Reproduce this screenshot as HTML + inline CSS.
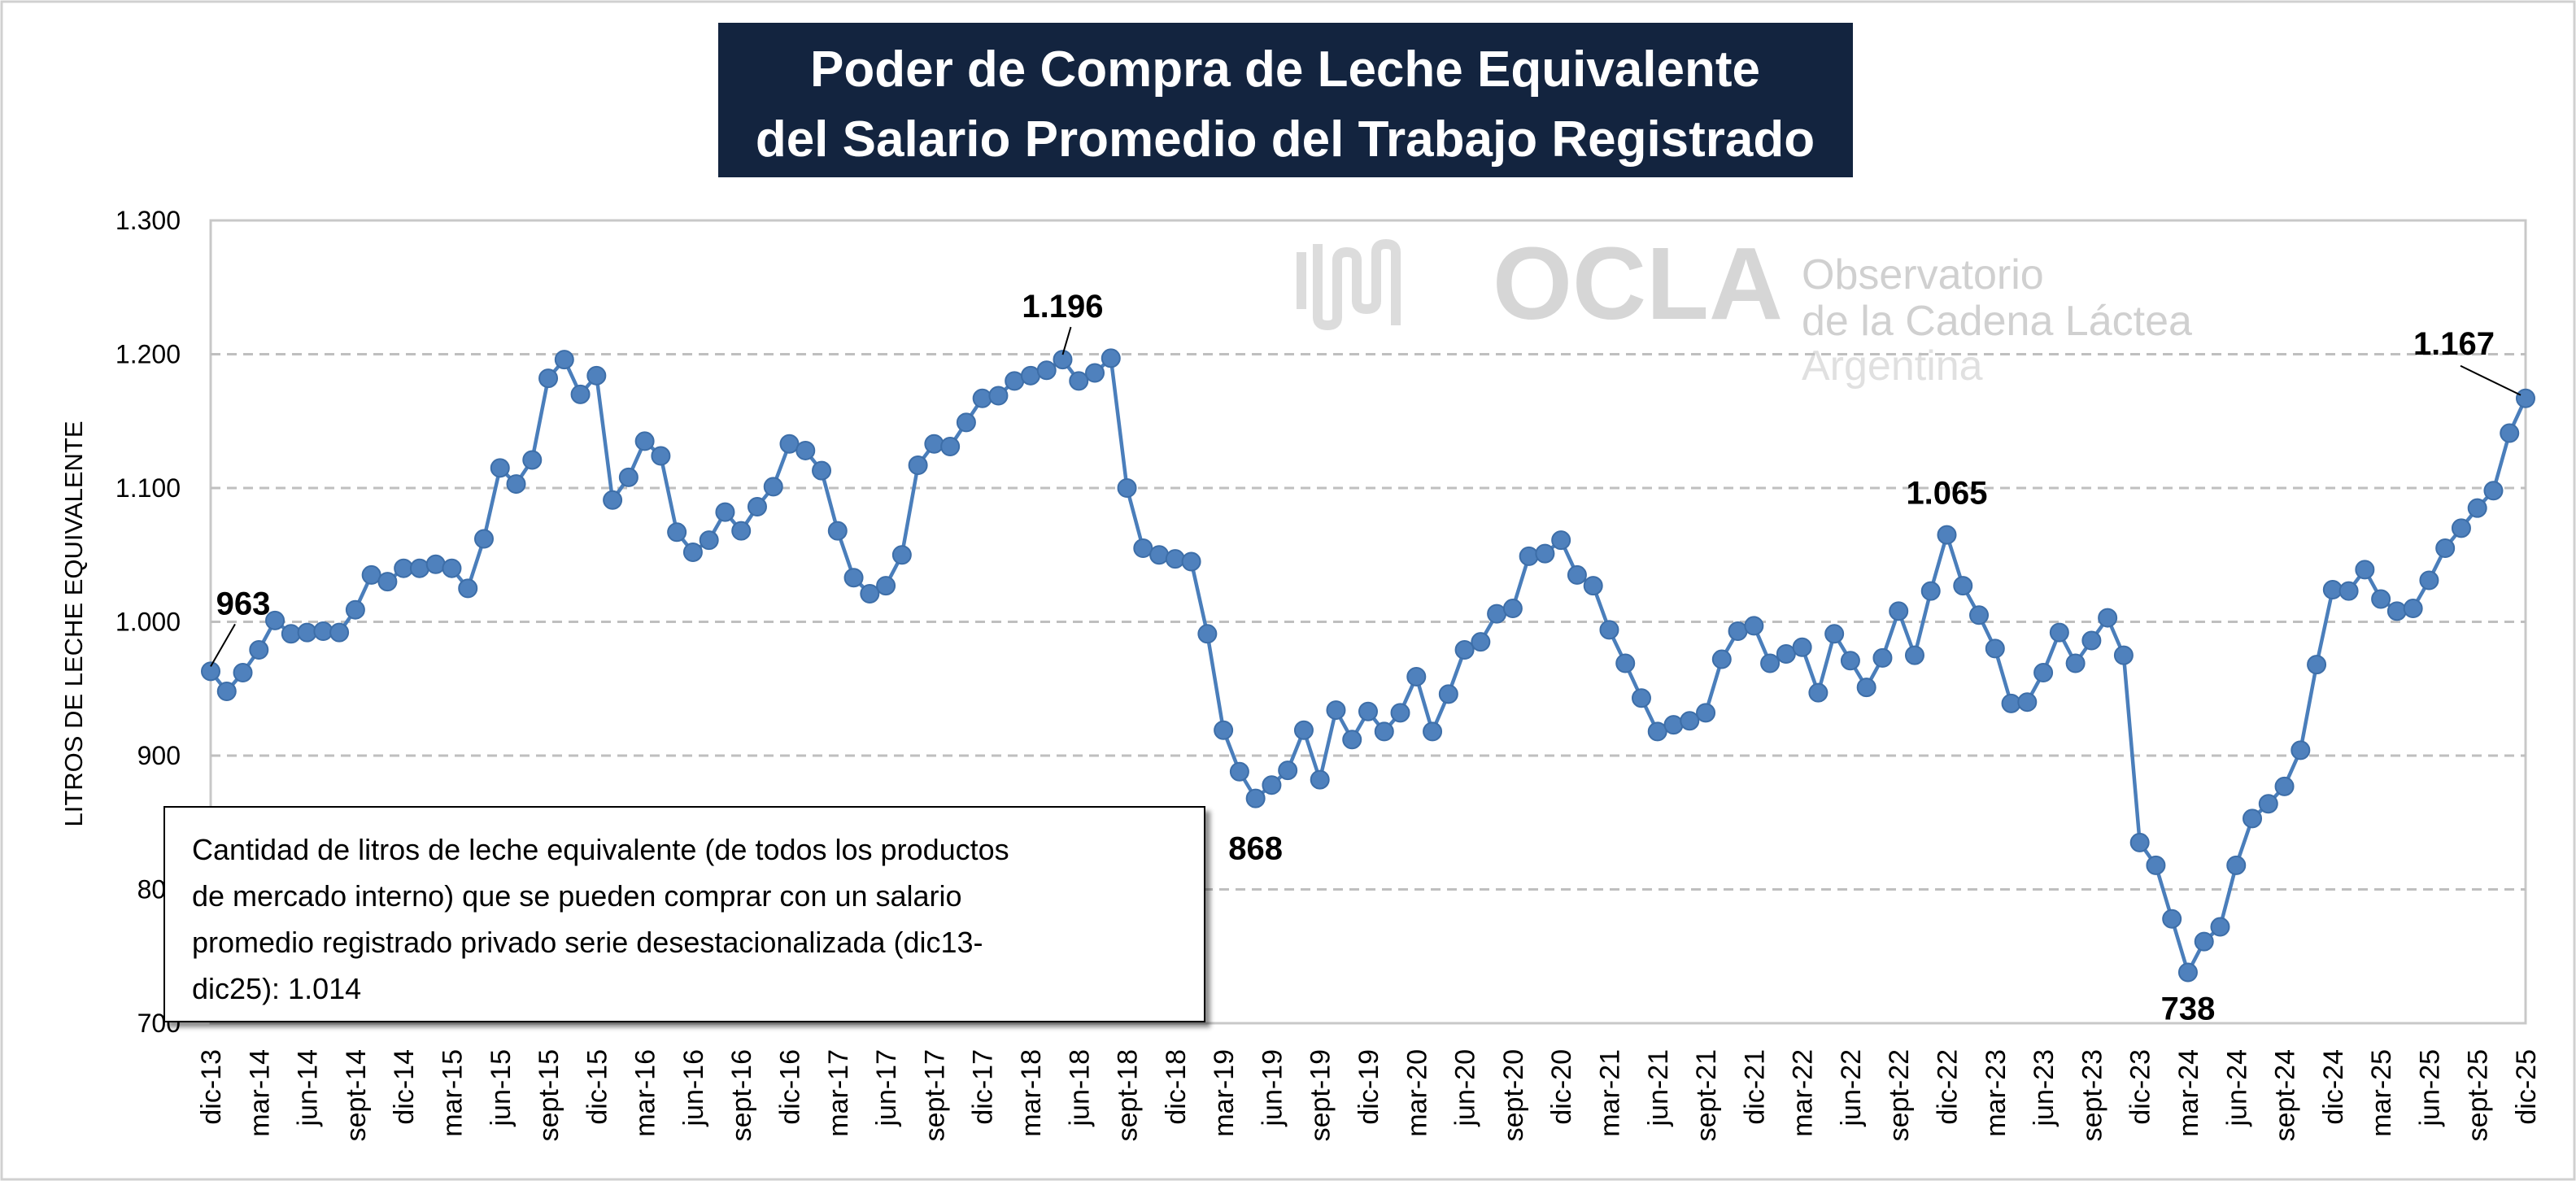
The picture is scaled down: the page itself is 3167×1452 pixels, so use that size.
<!DOCTYPE html>
<html><head><meta charset="utf-8"><style>
html,body{margin:0;padding:0;background:#fff;}
svg{display:block;font-family:"Liberation Sans",sans-serif;}
</style></head><body>
<svg id="chart" width="3167" height="1452" viewBox="0 0 3167 1452" xmlns="http://www.w3.org/2000/svg">
<defs><filter id="sh" x="-5%" y="-5%" width="115%" height="120%"><feDropShadow dx="6" dy="6" stdDeviation="3" flood-color="#000" flood-opacity="0.45"/></filter></defs>
<rect x="2" y="2" width="3163" height="1448" fill="#fff" stroke="#d0d0d0" stroke-width="3"/>
<g>
<rect x="883" y="28" width="1395" height="190" fill="#13243f"/>
<text x="1580" y="106" text-anchor="middle" fill="#fff" font-size="62" font-weight="bold">Poder de Compra de Leche Equivalente</text>
<text x="1580" y="192" text-anchor="middle" fill="#fff" font-size="62" font-weight="bold">del Salario Promedio del Trabajo Registrado</text>
</g>
<g fill="#d9d9d9">
<path d="M1600 310 v70 M1620 300 v90 q0 10 12 10 q12 0 12 -10 v-70 q0 -10 12 -10 q12 0 12 10 v50 q0 10 12 10 q12 0 12 -10 v-60 q0 -10 12 -10 q12 0 12 10 v90" stroke="#dcdcdc" stroke-width="12" fill="none"/>
<text x="1835" y="392" font-size="126" font-weight="bold" fill="#d6d6d6">OCLA</text>
<text x="2215" y="355" font-size="52" fill="#d0d0d0">Observatorio</text>
<text x="2215" y="412" font-size="52" fill="#d0d0d0">de la Cadena Láctea</text>
<text x="2215" y="467" font-size="52" fill="#e0e0e0">Argentina</text>
</g>
<g id="grid"></g><g id="yticks"></g><g id="xticks"></g><g id="series"></g><g id="annots"></g>
<text transform="translate(101,767) rotate(-90)" text-anchor="middle" font-size="31" fill="#000">LITROS DE LECHE EQUIVALENTE</text>
<g>
<rect x="202" y="992" width="1279" height="264" fill="#fff" stroke="#000" stroke-width="2" filter="url(#sh)"/>
<text font-size="36" fill="#000"><tspan x="236" y="1057">Cantidad de litros de leche equivalente (de todos los productos</tspan><tspan x="236" y="1114">de mercado interno) que se pueden comprar con un salario</tspan><tspan x="236" y="1171">promedio registrado privado serie desestacionalizada (dic13-</tspan><tspan x="236" y="1228">dic25): 1.014</tspan></text>
</g>
</svg>
<script>
const values=[963,948,962,979,1001,991,992,993,992,1009,1035,1030,1040,1040,1043,1040,1025,1062,1115,1103,1121,1182,1196,1170,1184,1091,1108,1135,1124,1067,1052,1061,1082,1068,1086,1101,1133,1128,1113,1068,1033,1021,1027,1050,1117,1133,1131,1149,1167,1169,1180,1184,1188,1196,1180,1186,1197,1100,1055,1050,1047,1045,991,919,888,868,878,889,919,882,934,912,933,918,932,959,918,946,979,985,1006,1010,1049,1051,1061,1035,1027,994,969,943,918,923,926,932,972,993,997,969,976,981,947,991,971,951,973,1008,975,1023,1065,1027,1005,980,939,940,962,992,969,986,1003,975,835,818,778,738,761,772,818,853,864,877,904,968,1024,1023,1039,1017,1008,1010,1031,1055,1070,1085,1098,1141,1167];
const monthNames=["dic","mar","jun","sept"];
const yTicks=[700,800,900,1000,1100,1200,1300];
const yTickLabels=["700","800","900","1.000","1.100","1.200","1.300"];
const annotIdx=[0,53,65,108,123,144];
const annotText=["963","1.196","868","1.065","738","1.167"];
const NS="http://www.w3.org/2000/svg";
const L=259,R=3105,T=271,B=1258,YMIN=700,YMAX=1300;
const xs=i=>L+(R-L)*i/(values.length-1);
const ys=v=>B-(v-YMIN)/(YMAX-YMIN)*(B-T);
function mk(tag,attrs,parent){const e=document.createElementNS(NS,tag);for(const k in attrs)e.setAttribute(k,attrs[k]);parent.appendChild(e);return e;}
const grid=document.getElementById('grid'),yt=document.getElementById('yticks'),xt=document.getElementById('xticks'),se=document.getElementById('series'),an=document.getElementById('annots');
const frame=mk('rect',{x:L,y:T,width:R-L,height:B-T,fill:'none',stroke:'#c8c8c8','stroke-width':3},grid);


yTicks.forEach((v,i)=>{
 if(v>YMIN&&v<YMAX){const g=mk('line',{x1:L,x2:R,y1:ys(v),y2:ys(v),stroke:'#bfbfbf','stroke-width':3,'stroke-dasharray':'12,8'},grid);
 
 }
 const t=mk('text',{x:222,y:ys(v)+11,'text-anchor':'end','font-size':32},yt);t.textContent=yTickLabels[i];
 
 
});
for(let i=0;i<values.length;i+=3){
 const yr=13+Math.floor((i+11)/12);
 const t=mk('text',{transform:`translate(${xs(i)+12},1290) rotate(-90)`,'text-anchor':'end','font-size':34},xt);
 t.textContent=monthNames[(i/3)%4]+'-'+yr;
 
 
}
const line=mk('polyline',{points:values.map((v,i)=>xs(i)+','+ys(v)).join(' '),fill:'none',stroke:'#4a7ebb','stroke-width':4.5},se);


values.forEach((v,i)=>{const c=mk('circle',{cx:xs(i),cy:ys(v),r:11,fill:'#4f81bd',stroke:'#3d6ea8','stroke-width':2},se);
 
 });
annotIdx.forEach((idx,k)=>{
 const x=xs(idx),y=ys(values[idx]);let tx=x,ty;
 if(k===0){tx=x+40;ty=y-70;mk('line',{x1:x,y1:y-6,x2:x+30,y2:y-58,stroke:'#000','stroke-width':2},an);}
 else if(k===1){ty=y-52;mk('line',{x1:x,y1:y-6,x2:x+10,y2:y-40,stroke:'#000','stroke-width':2},an);}
 else if(k===5){tx=x-88;ty=y-54;mk('line',{x1:x-6,y1:y-4,x2:x-80,y2:y-40,stroke:'#000','stroke-width':2},an);}
 else if(k===2){ty=y+75;}
 else if(k===4){ty=y+58;}
 else{ty=y-38;}
 const t=mk('text',{x:tx,y:ty,'text-anchor':'middle','font-size':40,'font-weight':'bold'},an);t.textContent=annotText[k];
 
 
});
</script>
</body></html>
